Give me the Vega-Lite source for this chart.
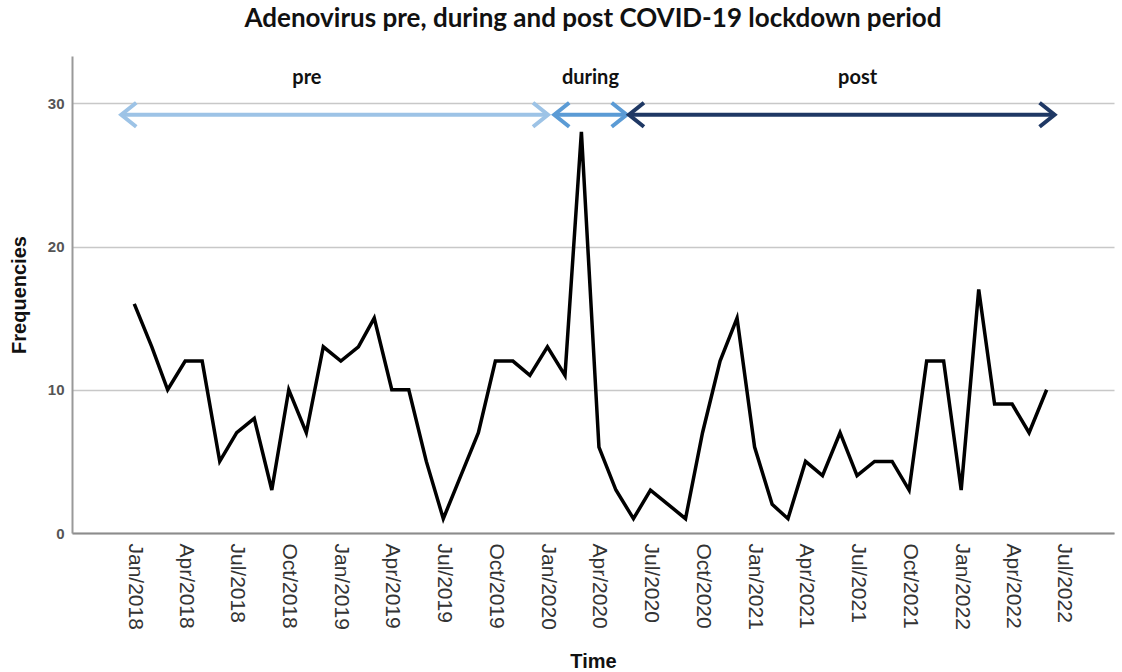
{
  "$schema": "https://vega.github.io/schema/vega-lite/v6.json",
  "autosize": {"type": "none"},
  "padding": {"left": 72, "top": 56, "right": 8, "bottom": 139},
  "width": 1042,
  "height": 477,
  "background": "white",
  "title": {
    "text": "Adenovirus pre, during and post COVID-19 lockdown period",
    "font": "Lato",
    "fontSize": 26,
    "fontWeight": "bold",
    "color": "#111111",
    "anchor": "middle",
    "frame": "group",
    "offset": 24
  },
  "config": {
    "view": {"stroke": null},
    "axis": {"labelFont": "Liberation Sans", "titleFont": "Liberation Sans"}
  },
  "datasets": {
    "cases": [
      {"month": "2018-01-01", "count": 16}, {"month": "2018-02-01", "count": 13}, {"month": "2018-03-01", "count": 10},
      {"month": "2018-04-01", "count": 12}, {"month": "2018-05-01", "count": 12}, {"month": "2018-06-01", "count": 5},
      {"month": "2018-07-01", "count": 7}, {"month": "2018-08-01", "count": 8}, {"month": "2018-09-01", "count": 3},
      {"month": "2018-10-01", "count": 10}, {"month": "2018-11-01", "count": 7}, {"month": "2018-12-01", "count": 13},
      {"month": "2019-01-01", "count": 12}, {"month": "2019-02-01", "count": 13}, {"month": "2019-03-01", "count": 15},
      {"month": "2019-04-01", "count": 10}, {"month": "2019-05-01", "count": 10}, {"month": "2019-06-01", "count": 5},
      {"month": "2019-07-01", "count": 1}, {"month": "2019-08-01", "count": 4}, {"month": "2019-09-01", "count": 7},
      {"month": "2019-10-01", "count": 12}, {"month": "2019-11-01", "count": 12}, {"month": "2019-12-01", "count": 11},
      {"month": "2020-01-01", "count": 13}, {"month": "2020-02-01", "count": 11}, {"month": "2020-03-01", "count": 28},
      {"month": "2020-04-01", "count": 6}, {"month": "2020-05-01", "count": 3}, {"month": "2020-06-01", "count": 1},
      {"month": "2020-07-01", "count": 3}, {"month": "2020-08-01", "count": 2}, {"month": "2020-09-01", "count": 1},
      {"month": "2020-10-01", "count": 7}, {"month": "2020-11-01", "count": 12}, {"month": "2020-12-01", "count": 15},
      {"month": "2021-01-01", "count": 6}, {"month": "2021-02-01", "count": 2}, {"month": "2021-03-01", "count": 1},
      {"month": "2021-04-01", "count": 5}, {"month": "2021-05-01", "count": 4}, {"month": "2021-06-01", "count": 7},
      {"month": "2021-07-01", "count": 4}, {"month": "2021-08-01", "count": 5}, {"month": "2021-09-01", "count": 5},
      {"month": "2021-10-01", "count": 3}, {"month": "2021-11-01", "count": 12}, {"month": "2021-12-01", "count": 12},
      {"month": "2022-01-01", "count": 3}, {"month": "2022-02-01", "count": 17}, {"month": "2022-03-01", "count": 9},
      {"month": "2022-04-01", "count": 9}, {"month": "2022-05-01", "count": 7}, {"month": "2022-06-01", "count": 10}
    ],
    "periods": [
      {"phase": "pre", "start": "2017-12-09", "end": "2020-01-02", "mid": "2018-11-02", "level": 29.2, "label_level": 31.75},
      {"phase": "during", "start": "2020-01-13", "end": "2020-05-20", "mid": "2020-03-17", "level": 29.2, "label_level": 31.75},
      {"phase": "post", "start": "2020-05-24", "end": "2022-06-15", "mid": "2021-07-02", "level": 29.2, "label_level": 31.75}
    ]
  },
  "layer": [
    {
      "data": {"name": "cases"},
      "mark": {"type": "line", "color": "#000000", "strokeWidth": 3.5, "strokeJoin": "miter"},
      "encoding": {
        "x": {
          "field": "month",
          "type": "temporal",
          "scale": {"domain": [{"year": 2017, "month": 9, "date": 13}, {"year": 2022, "month": 9, "date": 28}]},
          "axis": {
            "title": "Time",
            "titleFontSize": 20,
            "titleFontWeight": "bold",
            "titleColor": "#111111",
            "titlePadding": 22,
            "format": "%b/%Y",
            "labelAngle": 90,
            "labelFontSize": 21,
            "labelColor": "#333333",
            "labelPadding": 10,
            "labelOverlap": false,
            "labelFlush": false,
            "ticks": false,
            "grid": false,
            "domainColor": "#8c8c8c",
            "domainWidth": 2,
            "values": [
              {"year": 2018, "month": 1, "date": 1}, {"year": 2018, "month": 4, "date": 1}, {"year": 2018, "month": 7, "date": 1}, {"year": 2018, "month": 10, "date": 1},
              {"year": 2019, "month": 1, "date": 1}, {"year": 2019, "month": 4, "date": 1}, {"year": 2019, "month": 7, "date": 1}, {"year": 2019, "month": 10, "date": 1},
              {"year": 2020, "month": 1, "date": 1}, {"year": 2020, "month": 4, "date": 1}, {"year": 2020, "month": 7, "date": 1}, {"year": 2020, "month": 10, "date": 1},
              {"year": 2021, "month": 1, "date": 1}, {"year": 2021, "month": 4, "date": 1}, {"year": 2021, "month": 7, "date": 1}, {"year": 2021, "month": 10, "date": 1},
              {"year": 2022, "month": 1, "date": 1}, {"year": 2022, "month": 4, "date": 1}, {"year": 2022, "month": 7, "date": 1}
            ]
          }
        },
        "y": {
          "field": "count",
          "type": "quantitative",
          "scale": {"domain": [0, 33.3], "nice": false},
          "axis": {
            "title": "Frequencies",
            "titleFontSize": 20,
            "titleFontWeight": "bold",
            "titleColor": "#111111",
            "titlePadding": 18,
            "values": [0, 10, 20, 30],
            "labelFontSize": 15,
            "labelFontWeight": "bold",
            "labelColor": "#555555",
            "labelPadding": 8,
            "ticks": false,
            "grid": true,
            "gridColor": "#c8c8c8",
            "gridWidth": 1.5,
            "domainColor": "#999999",
            "domainWidth": 2
          }
        }
      }
    },
    {
      "data": {"name": "periods"},
      "mark": {"type": "rule", "strokeWidth": 4},
      "encoding": {
        "x": {"field": "start", "type": "temporal"},
        "x2": {"field": "end"},
        "y": {"field": "level", "type": "quantitative"},
        "color": {
          "field": "phase",
          "type": "nominal",
          "scale": {"domain": ["pre", "during", "post"], "range": ["#9dc3e6", "#5b9bd5", "#1f3864"]},
          "legend": null
        }
      }
    },
    {
      "data": {"name": "periods"},
      "transform": [{"fold": ["start", "end"], "as": ["side", "tip"]}],
      "mark": {"type": "point", "filled": false, "size": 400, "strokeWidth": 4, "opacity": 1},
      "encoding": {
        "x": {"field": "tip", "type": "temporal"},
        "y": {"field": "level", "type": "quantitative"},
        "shape": {
          "field": "side",
          "type": "nominal",
          "scale": {"domain": ["start", "end"], "range": ["M1.5,-1.2L0,0L1.5,1.2", "M-1.5,-1.2L0,0L-1.5,1.2"]},
          "legend": null
        },
        "color": {"field": "phase", "type": "nominal", "legend": null}
      }
    },
    {
      "data": {"name": "periods"},
      "mark": {"type": "text", "font": "Lato", "fontSize": 20, "fontWeight": "bold", "color": "#111111", "baseline": "middle", "align": "center"},
      "encoding": {
        "x": {"field": "mid", "type": "temporal"},
        "y": {"field": "label_level", "type": "quantitative"},
        "text": {"field": "phase", "type": "nominal"}
      }
    }
  ]
}
